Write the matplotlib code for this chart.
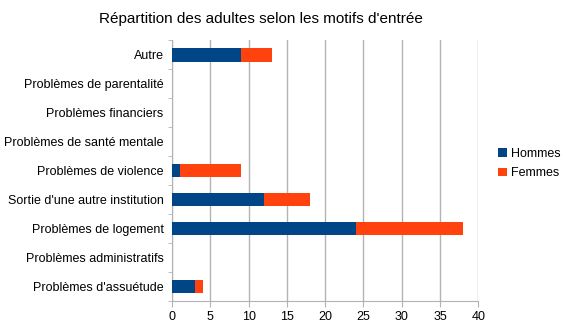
import numpy as np
import matplotlib.pyplot as plt

plt.rcParams['font.family'] = ['Liberation Sans', 'DejaVu Sans']

# ------------------------------------------------------------
# Data (bottom to top)
# ------------------------------------------------------------
categories = [
    "Problèmes d'assuétude",
    "Problèmes administratifs",
    "Problèmes de logement",
    "Sortie d'une autre institution",
    "Problèmes de violence",
    "Problèmes de santé mentale",
    "Problèmes financiers",
    "Problèmes de parentalité",
    "Autre",
]
hommes = [3, 0, 24, 12, 1, 0, 0, 0, 9]
femmes = [1, 0, 14, 6, 8, 0, 0, 0, 4]
x_ticks = [0, 5, 10, 15, 20, 25, 30, 35, 40]

COL_H = "#004586"
COL_F = "#ff420e"
GRID = "#b3b3b3"

fig = plt.figure(figsize=(5.66, 3.27), dpi=100)
ax = fig.add_axes([0.304, 0.0795, 0.541, 0.798])

y = np.arange(len(categories))
ax.barh(y, hommes, height=0.48, color=COL_H, label="Hommes", zorder=3)
ax.barh(y, femmes, left=hommes, height=0.48, color=COL_F, label="Femmes", zorder=3)

ax.set_xlim(0, 40)
ax.set_ylim(-0.5, len(categories) - 0.5)
ax.set_xticks(x_ticks)
ax.set_yticks(y)
ax.set_yticklabels(categories)
ax.set_yticks(np.arange(len(categories) + 1) - 0.5, minor=True)

ax.tick_params(axis="y", which="major", length=0, pad=6, labelsize=9)
ax.tick_params(axis="y", which="minor", length=3, color=GRID, direction="out")
ax.tick_params(axis="x", which="major", length=4, color=GRID, labelsize=9, pad=3)

ax.grid(axis="x", color=GRID, linewidth=1, zorder=0)
for side in ["top", "right"]:
    ax.spines[side].set_visible(False)
for side in ["left", "bottom"]:
    ax.spines[side].set_color(GRID)

fig.suptitle("Répartition des adultes selon les motifs d'entrée", x=0.461, y=0.962, fontsize=11)

fig.legend(loc="center left", bbox_to_anchor=(0.86, 0.5), frameon=False,
           fontsize=9, handlelength=0.7, handleheight=0.7, handletextpad=0.3,
           labelspacing=0.6)

fig.savefig("out.png", dpi=100)
